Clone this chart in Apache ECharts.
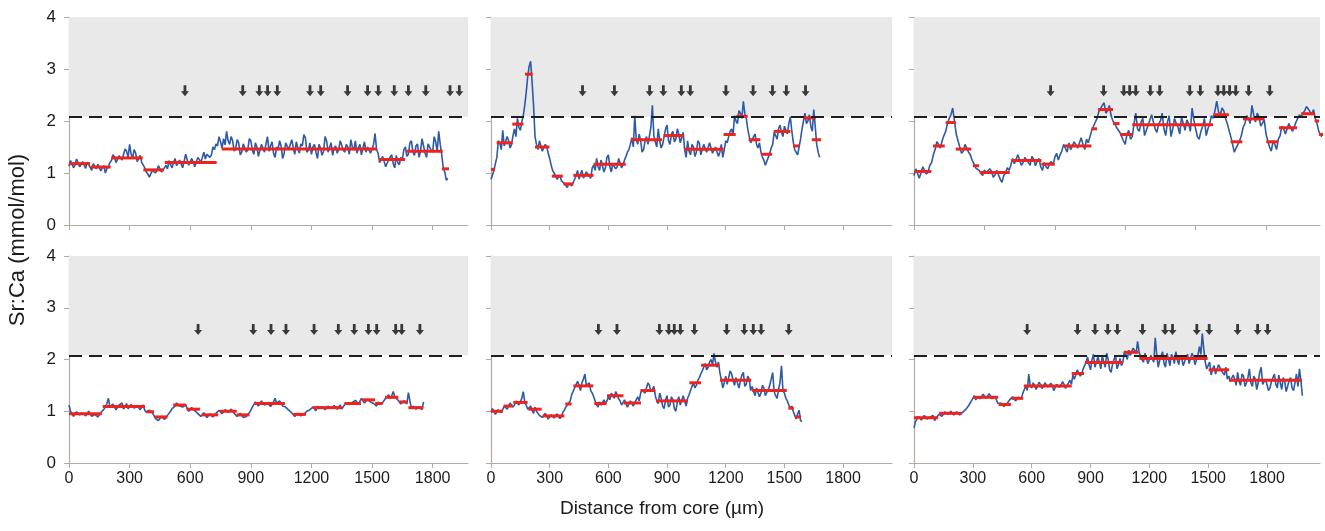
<!DOCTYPE html>
<html>
<head>
<meta charset="utf-8">
<title>Sr:Ca profiles</title>
<script src="https://cdn.jsdelivr.net/npm/echarts@6/dist/echarts.min.js"></script>
<style>
  html, body { margin: 0; padding: 0; background: #fff; }
  #chart { width: 1325px; height: 531px; }
</style>
</head>
<body>
<div id="chart"></div>
<script>
// distance step between successive Sr:Ca readings (µm)
const STEP = 7.5
const X_TICKS = [0, 300, 600, 900, 1200, 1500, 1800]
const Y_TICKS = [0, 1, 2, 3, 4]
const THRESHOLD = 2.08
const ARROW_LEVEL = 2.58

const TITLES = ['a-Freshwater resident', 'b-Freshwater straggler', 'c-Freshwater straggler',
  'd-Freshwater resident', 'e-Freshwater resident', 'f-Freshwater straggler']
const RIVERS = ['Paraná River', 'Paraná River', 'Paraná River', 'Uruguay River', 'Uruguay River', 'Uruguay River']
const AGES = [15, 12, 15, 13, 14, 13]
const FISH_IDS = [31, 8, 7, 42, 55, 41]

// Sr:Ca (mmol/mol), one value every STEP µm from the core
const SR_A = [1.13, 1.24, 1.22, 1.10, 1.16, 1.27, 1.24, 1.12, 1.12, 1.22, 1.20, 1.09, 1.21, 1.16,
  1.14, 1.05, 1.18, 1.12, 1.08, 1.17, 1.15, 1.04, 1.10, 1.14, 1.00, 1.08, 1.12, 1.20,
  1.24, 1.35, 1.31, 1.20, 1.22, 1.33, 1.35, 1.25, 1.28, 1.46, 1.42, 1.30, 1.55, 1.36, 1.30, 1.45,
  1.38, 1.22, 1.25, 1.34, 1.20, 1.15,
  1.10, 1.02, 0.98, 0.92, 0.94, 1.05, 1.08, 1.00, 1.05, 1.14, 1.12, 1.02, 1.06, 1.10,
  1.15, 1.08, 1.24, 1.16, 1.10, 1.20, 1.28, 1.14, 1.16, 1.25, 1.22, 1.10, 1.12, 1.36, 1.33, 1.15,
  1.18, 1.28, 1.21, 1.12, 1.14, 1.30, 1.26, 1.20, 1.30, 1.40, 1.27, 1.36, 1.38, 1.30, 1.35, 1.50,
  1.45, 1.56,
  1.52, 1.70, 1.60, 1.48, 1.66, 1.54, 1.80, 1.62, 1.55, 1.70, 1.62, 1.42, 1.48, 1.64, 1.58, 1.35,
  1.40, 1.56, 1.55, 1.40, 1.45, 1.66, 1.62, 1.44, 1.36, 1.58, 1.50, 1.32, 1.33, 1.55, 1.48, 1.40,
  1.56, 1.70, 1.42, 1.52, 1.60, 1.38, 1.30, 1.50, 1.46, 1.62, 1.52, 1.28, 1.38, 1.58, 1.55, 1.45,
  1.42, 1.64, 1.49, 1.36, 1.60, 1.48, 1.38, 1.56, 1.52, 1.74, 1.68, 1.40, 1.44, 1.58, 1.36, 1.50,
  1.55, 1.40, 1.28, 1.55, 1.48, 1.34, 1.42, 1.70, 1.62, 1.40, 1.50, 1.58, 1.34, 1.48, 1.52, 1.38,
  1.45, 1.62, 1.60, 1.44, 1.40, 1.55, 1.50, 1.36, 1.64, 1.50, 1.44, 1.62, 1.38, 1.48, 1.55, 1.35,
  1.48, 1.60, 1.40, 1.50, 1.52, 1.38, 1.46, 1.55, 1.76, 1.45,
  1.38, 1.20, 1.22, 1.32, 1.30, 1.12, 1.14, 1.26, 1.28, 1.35, 1.18, 1.10, 1.34, 1.20, 1.16, 1.30,
  1.25, 1.45,
  1.50, 1.32, 1.36, 1.58, 1.62, 1.40, 1.34, 1.52, 1.56, 1.30, 1.42, 1.66, 1.68, 1.38, 1.30, 1.56,
  1.50, 1.44, 1.40, 1.70, 1.60, 1.42, 1.80, 1.55,
  1.35, 1.10, 1.02, 0.86, 0.90]
const SR_B = [0.88, 0.96, 1.05, 1.18, 1.30, 1.62, 1.58, 1.45, 1.82, 1.52, 1.50, 1.70, 1.62, 1.48,
  1.55, 1.72, 1.85, 1.70, 2.05, 1.88, 1.82, 1.98, 2.10, 2.30, 2.55, 2.85, 3.05, 3.15, 2.75, 2.30,
  1.70, 1.55, 1.45, 1.62, 1.65, 1.42, 1.40, 1.55, 1.50, 1.38, 1.28, 1.15, 1.05, 1.00, 0.95, 0.88,
  0.90, 0.95, 0.85, 0.82, 0.80, 0.76, 0.72, 0.80, 0.82, 0.75, 0.78, 0.88, 0.95, 1.05, 0.88, 0.98,
  1.05, 0.90, 0.92, 1.02, 1.00, 0.94, 0.90, 1.10, 1.15, 1.05, 1.28, 1.12, 1.05, 1.25, 1.22, 1.02,
  1.10, 1.30, 1.35, 1.12, 1.02, 1.18, 1.20, 1.08, 1.12, 1.28, 1.30, 1.10, 1.15, 1.25, 1.32, 1.40,
  1.45, 1.55, 1.68, 1.50, 2.10, 1.65, 1.55, 1.75, 1.62, 1.40, 1.45, 1.62, 1.70, 1.55, 1.52, 1.88,
  2.30, 1.72, 1.60, 1.50, 1.85, 1.62, 1.48, 1.55, 1.70, 1.85, 1.92, 1.62, 1.55, 1.75, 1.80, 1.60,
  1.65, 1.85, 1.75, 1.58, 1.60, 1.78, 1.45, 1.30, 1.62, 1.42, 1.35, 1.55, 1.50, 1.32, 1.40, 1.62,
  1.58, 1.35, 1.38, 1.55, 1.52, 1.40, 1.42, 1.58, 1.60, 1.38, 1.35, 1.50, 1.48, 1.32, 1.40, 1.55,
  1.30, 1.45, 1.62, 1.58, 1.70, 1.80, 1.85, 1.72, 2.10, 2.00, 1.95, 2.20, 2.15, 2.05, 2.38, 2.15,
  2.05, 1.85, 1.70, 1.58, 1.60, 1.70, 1.75, 1.55, 1.48, 1.58, 1.40, 1.30, 1.25, 1.15, 1.18, 1.30,
  1.38, 1.48, 1.55, 1.78, 1.72, 1.65, 1.85, 1.92, 1.78, 1.70, 1.90, 1.82, 1.75, 1.95, 2.08, 1.82,
  1.60, 1.45, 1.42, 1.35, 1.50, 1.65, 1.85, 2.00, 2.15, 1.95, 2.00, 2.12, 1.90, 1.80, 2.22, 1.90,
  1.55, 1.40, 1.30]
const SR_C = [0.95, 1.08, 1.05, 0.90, 0.92, 1.12, 1.10, 0.98, 1.02, 1.15, 1.20, 1.35, 1.45, 1.60,
  1.55, 1.48, 1.62, 1.72, 1.80, 1.95, 2.05, 2.12, 2.25, 2.00, 1.75, 1.62, 1.50, 1.38, 1.42, 1.55,
  1.48, 1.40, 1.35, 1.25, 1.18, 1.10, 1.12, 1.05, 1.00, 0.95, 1.06, 1.00, 0.98, 1.08, 1.04, 0.92,
  0.96, 1.05, 1.02, 0.88, 0.82, 0.95, 1.00, 1.10, 1.05, 1.15, 1.28, 1.18, 1.18, 1.35, 1.32, 1.15,
  1.20, 1.30, 1.28, 1.20, 1.15, 1.32, 1.26, 1.14, 1.22, 1.28, 1.12, 1.05, 1.20, 1.12, 1.08, 1.18,
  1.22, 1.15, 1.30, 1.38, 1.25, 1.35, 1.42, 1.55, 1.48, 1.40, 1.58, 1.45, 1.45, 1.60, 1.62, 1.48,
  1.50, 1.68, 1.55, 1.45, 1.65, 1.58, 1.70, 1.82, 1.90, 1.98, 2.05, 2.18, 2.15, 2.30, 2.35, 2.15,
  2.20, 2.30, 2.10, 2.00, 1.95, 1.88, 1.85, 1.78, 1.70, 1.62, 1.55, 1.75, 1.82, 1.65, 1.70, 1.95,
  2.15, 1.85, 1.80, 1.98, 2.05, 1.72, 1.75, 1.92, 1.95, 2.12, 2.10, 1.85, 1.78, 1.95, 2.00, 2.15,
  1.85, 1.72, 1.98, 2.10, 1.70, 1.85, 2.05, 1.95, 1.88, 1.75, 2.08, 1.95, 1.82, 2.02, 1.95, 1.80,
  2.25, 2.02, 1.85, 1.70, 1.65, 1.80, 1.90, 2.05, 1.72, 1.85, 1.95, 2.10, 2.05, 2.20, 2.38, 2.18,
  2.10, 2.25, 2.20, 2.05, 1.95, 1.82, 1.70, 1.55, 1.40, 1.48, 1.55, 1.62, 1.72, 1.88, 1.95, 2.10,
  2.05, 1.95, 2.30, 2.12, 1.98, 2.15, 2.08, 1.90, 1.92, 2.02, 1.75, 1.62, 1.50, 1.42, 1.62, 1.55,
  1.45, 1.65, 1.72, 1.90, 1.85, 1.75, 1.78, 1.95, 1.92, 1.80, 1.88, 1.98, 2.00, 2.12, 2.08, 2.15,
  2.20, 2.28, 2.30, 2.18, 2.12, 2.22, 2.05, 1.95, 1.80, 1.72, 1.70]
const SR_D = [1.12, 1.00, 0.95, 0.90, 0.92, 0.99, 0.98, 0.93, 0.90, 0.97, 0.96, 0.91, 0.93, 1.00,
  0.98, 0.90, 0.88, 0.94, 0.95, 0.89, 0.92, 0.97, 1.00, 1.04, 1.08, 1.15, 1.25, 1.08, 1.05, 1.14,
  1.12, 1.03, 1.06, 1.12, 1.10, 1.16, 1.04, 1.09, 1.15, 1.05, 1.08, 1.13, 1.12, 1.06, 1.05, 1.11,
  1.10, 1.03, 1.08, 1.12, 1.02, 0.98, 0.96, 1.02, 1.05, 0.97, 0.92, 0.86, 0.88, 0.82, 0.85, 0.90,
  0.90, 0.84, 0.86, 0.92, 0.95, 1.00, 1.05, 1.08, 1.10, 1.16, 1.15, 1.10, 1.12, 1.08, 1.10, 1.13,
  1.05, 1.00, 1.02, 1.07, 1.06, 1.01, 1.00, 0.96, 0.98, 0.90, 0.92, 0.97, 0.95, 0.88, 0.90, 0.95,
  0.94, 0.89, 0.92, 0.96, 0.96, 1.02, 1.00, 0.95, 0.97, 1.03, 1.02, 0.98, 0.99, 1.04, 1.01, 0.96,
  0.95, 0.90, 0.92, 0.96, 0.94, 0.88, 0.85, 0.90, 0.92, 0.97, 1.02, 1.08, 1.10, 1.18, 1.15, 1.10,
  1.12, 1.20, 1.18, 1.12, 1.10, 1.16, 1.16, 1.09, 1.12, 1.18, 1.25, 1.16, 1.14, 1.20, 1.18, 1.10,
  1.12, 1.08, 1.05, 1.02, 1.00, 0.97, 0.95, 0.90, 0.92, 0.96, 0.96, 0.91, 0.90, 0.94, 0.95, 1.00,
  0.98, 1.03, 1.02, 1.08, 1.05, 1.01, 1.10, 1.05, 1.04, 1.09, 1.08, 1.03, 1.02, 1.10, 1.12, 1.06,
  1.05, 1.11, 1.10, 1.04, 1.06, 1.12, 1.04, 1.09, 1.12, 1.16, 1.18, 1.13, 1.10, 1.17, 1.15, 1.21,
  1.20, 1.14, 1.12, 1.25, 1.22, 1.16, 1.18, 1.23, 1.26, 1.18, 1.20, 1.15, 1.14, 1.10, 1.18, 1.14,
  1.12, 1.17, 1.20, 1.25, 1.28, 1.32, 1.24, 1.30, 1.38, 1.28, 1.26, 1.22, 1.20, 1.14, 1.15, 1.20,
  1.22, 1.14, 1.36, 1.20, 1.05, 1.10, 1.10, 1.04, 1.02, 1.09, 1.08, 1.03, 1.18]
const SR_E = [0.98, 1.05, 1.02, 0.94, 0.95, 1.03, 1.05, 0.97, 1.00, 1.10, 1.12, 1.04, 1.06, 1.16,
  1.14, 1.08, 1.12, 1.20, 1.22, 1.12, 1.15, 1.25, 1.38, 1.18, 1.12, 1.04, 1.06, 1.10, 1.02, 0.96,
  1.08, 1.00, 0.98, 0.92, 0.95, 0.88, 0.90, 0.96, 0.94, 0.85, 0.86, 0.93, 0.92, 0.87, 0.88, 0.95,
  0.93, 0.86, 0.90, 0.98, 1.02, 1.08, 1.12, 1.15, 1.20, 1.32, 1.35, 1.45, 1.42, 1.58, 1.50, 1.40,
  1.55, 1.62, 1.72, 1.50, 1.48, 1.55, 1.40, 1.35, 1.28, 1.20, 1.12, 1.08, 1.18, 1.12, 1.10, 1.22,
  1.15, 1.20, 1.28, 1.22, 1.35, 1.30, 1.25, 1.38, 1.32, 1.24, 1.20, 1.12, 1.15, 1.22, 1.22, 1.08,
  1.10, 1.20, 1.18, 1.10, 1.12, 1.22, 1.28, 1.20, 1.35, 1.42, 1.45, 1.35, 1.38, 1.55, 1.50, 1.38,
  1.42, 1.48, 1.30, 1.20, 1.15, 1.35, 1.25, 1.10, 1.05, 1.22, 1.30, 1.08, 1.12, 1.28, 1.22, 1.05,
  1.00, 1.18, 1.28, 1.12, 1.15, 1.30, 1.20, 1.10, 1.25, 1.32, 1.40, 1.48, 1.55, 1.45, 1.50, 1.60,
  1.65, 1.72, 1.78, 1.85, 1.92, 1.80, 1.85, 1.95, 2.00, 1.90, 2.12, 1.95, 1.85, 1.95, 1.75, 1.60,
  1.45, 1.55, 1.68, 1.52, 1.55, 1.78, 1.72, 1.60, 1.50, 1.65, 1.65, 1.45, 1.58, 1.70, 1.75, 1.48,
  1.52, 1.68, 1.62, 1.40, 1.48, 1.38, 1.30, 1.45, 1.42, 1.28, 1.35, 1.50, 1.45, 1.30, 1.32, 1.42,
  1.50, 1.62, 1.75, 1.38, 1.30, 1.25, 1.42, 1.55, 1.88, 1.40, 1.35, 1.25, 1.20, 1.12, 1.05, 1.10,
  1.00, 0.92, 0.85, 0.95, 1.02, 0.82, 0.80]
const SR_F = [0.68, 0.80, 0.85, 0.90, 0.88, 0.83, 0.86, 0.92, 0.90, 0.85, 0.84, 0.89, 0.88, 0.92,
  0.82, 0.87, 0.90, 0.94, 0.95, 0.90, 0.93, 0.99, 1.02, 0.94, 0.96, 1.00, 0.98, 0.93, 0.94, 0.99,
  0.97, 0.93, 0.92, 0.98, 1.00, 1.03, 1.05, 1.10, 1.15, 1.20, 1.25, 1.30, 1.22, 1.27, 1.30, 1.24,
  1.26, 1.33, 1.32, 1.25, 1.28, 1.34, 1.30, 1.24, 1.25, 1.28, 1.22, 1.15, 1.12, 1.16, 1.15, 1.09,
  1.10, 1.14, 1.16, 1.22, 1.20, 1.28, 1.25, 1.20, 1.22, 1.27, 1.28, 1.24, 1.35, 1.42, 1.48, 1.40,
  1.72, 1.50, 1.45, 1.55, 1.50, 1.42, 1.45, 1.56, 1.52, 1.44, 1.48, 1.55, 1.58, 1.47, 1.46, 1.54,
  1.50, 1.40, 1.42, 1.52, 1.55, 1.46, 1.48, 1.57, 1.52, 1.44, 1.45, 1.55, 1.60, 1.52, 1.70, 1.62,
  1.65, 1.80, 1.78, 1.68, 1.72, 1.82, 1.85, 1.95, 2.05, 1.90, 1.80, 2.00, 2.10, 1.85, 1.88, 2.05,
  1.95, 1.82, 2.08, 1.95, 1.85, 2.12, 2.00, 1.80, 1.75, 1.92, 1.95, 2.08, 1.82, 1.90, 2.02, 1.88,
  1.95, 2.15, 2.10, 2.00, 2.18, 2.08, 2.05, 2.22, 2.25, 2.12, 2.35, 2.15, 2.05, 2.00, 1.95, 2.12,
  2.10, 1.92, 1.90, 2.08, 2.05, 1.95, 2.42, 2.10, 1.85, 1.98, 2.00, 2.15, 1.92, 1.85, 2.12, 2.00,
  1.88, 2.10, 2.05, 1.92, 2.15, 2.00, 1.90, 2.08, 2.02, 1.88, 1.85, 2.05, 2.10, 1.92, 1.95, 2.12,
  2.05, 1.90, 1.92, 2.08, 2.25, 2.10, 2.50, 2.20, 1.95, 1.82, 1.85, 1.95, 1.70, 1.82, 1.88, 1.72,
  1.75, 1.90, 1.92, 1.78, 1.80, 1.70, 1.85, 1.62, 1.68, 1.58, 1.55, 1.70, 1.62, 1.50, 1.75, 1.58,
  1.50, 1.72, 1.68, 1.48, 1.55, 1.65, 1.82, 1.55, 1.48, 1.68, 1.62, 1.42, 1.55, 1.75, 1.85, 1.52,
  1.50, 1.62, 1.65, 1.40, 1.45, 1.58, 1.60, 1.72, 1.52, 1.45, 1.70, 1.55, 1.42, 1.65, 1.58, 1.38,
  1.48, 1.60, 1.65, 1.45, 1.40, 1.55, 1.72, 1.48, 1.82, 1.60, 1.30]

// zone means: [from µm, to µm, mean Sr:Ca]
const MEANS_A = [[0, 104, 1.18], [107, 206, 1.115], [210, 365, 1.29], [368, 470, 1.06], [474, 731, 1.20],
  [756, 1523, 1.46], [1534, 1663, 1.26], [1671, 1850, 1.42], [1846, 1881, 1.08]]
const MEANS_B = [[0, 20, 1.07], [29, 111, 1.58], [109, 166, 1.94], [174, 213, 2.90], [225, 299, 1.50],
  [311, 367, 0.94], [370, 421, 0.79], [421, 524, 0.955], [524, 689, 1.17], [717, 874, 1.64],
  [882, 985, 1.72], [988, 1189, 1.455], [1189, 1251, 1.74], [1254, 1312, 2.09], [1317, 1377, 1.64],
  [1381, 1437, 1.36], [1445, 1531, 1.80], [1544, 1575, 1.52], [1596, 1660, 2.06], [1640, 1688, 1.64]]
const MEANS_C = [[3, 74, 1.03], [81, 131, 1.52], [135, 178, 1.97], [178, 244, 1.46], [251, 277, 1.14],
  [280, 408, 1.01], [415, 543, 1.24], [543, 600, 1.17], [642, 756, 1.52], [756, 780, 1.85],
  [784, 848, 2.22], [848, 876, 1.95], [879, 930, 1.74], [930, 1274, 1.93], [1277, 1342, 2.12],
  [1349, 1399, 1.60], [1402, 1494, 2.04], [1501, 1551, 1.60], [1555, 1632, 1.87], [1650, 1707, 2.14],
  [1707, 1726, 2.00], [1726, 1743, 1.74]]
const MEANS_D = [[0, 162, 0.95], [167, 376, 1.09], [384, 421, 0.99], [426, 488, 0.89], [516, 579, 1.12],
  [582, 648, 1.04], [657, 739, 0.93], [747, 830, 1.00], [830, 893, 0.93], [916, 1069, 1.15],
  [1110, 1173, 0.94], [1206, 1350, 1.07], [1363, 1445, 1.15], [1449, 1515, 1.22], [1515, 1553, 1.15],
  [1564, 1630, 1.27], [1635, 1675, 1.18], [1680, 1754, 1.07]]
const MEANS_E = [[0, 60, 1.00], [65, 111, 1.10], [114, 187, 1.17], [191, 259, 1.04], [264, 375, 0.91],
  [380, 412, 1.14], [421, 523, 1.49], [528, 591, 1.15], [593, 677, 1.30], [678, 767, 1.16],
  [764, 840, 1.40], [844, 1006, 1.20], [1014, 1074, 1.55], [1074, 1168, 1.89], [1171, 1330, 1.60],
  [1335, 1512, 1.40], [1520, 1548, 1.06], [1556, 1585, 0.89]]
const MEANS_F = [[0, 123, 0.875], [128, 242, 0.96], [301, 429, 1.27], [432, 494, 1.13], [497, 557, 1.25],
  [560, 804, 1.49], [804, 867, 1.73], [872, 1062, 1.94], [1071, 1144, 2.14], [1149, 1497, 2.02],
  [1502, 1606, 1.80], [1606, 1978, 1.60]]

// annual marks (µm)
const ARROWS_A = [574, 860, 942, 983, 1031, 1193, 1246, 1379, 1478, 1531, 1610, 1680, 1766, 1886, 1932]
const ARROWS_B = [468, 631, 811, 881, 973, 1019, 1201, 1340, 1439, 1510, 1608]
const ARROWS_C = [582, 808, 894, 919, 945, 1007, 1047, 1175, 1220, 1295, 1320, 1345, 1371, 1426, 1516]
const ARROWS_D = [639, 912, 1000, 1074, 1213, 1333, 1412, 1482, 1523, 1617, 1647, 1737]
const ARROWS_E = [549, 644, 861, 909, 937, 968, 1040, 1205, 1295, 1341, 1381, 1522]
const ARROWS_F = [577, 834, 923, 988, 1037, 1165, 1280, 1318, 1442, 1505, 1650, 1752, 1803]

const SERIES_VALUES = [SR_A, SR_B, SR_C, SR_D, SR_E, SR_F]
const SERIES_MEANS = [MEANS_A, MEANS_B, MEANS_C, MEANS_D, MEANS_E, MEANS_F]
const SERIES_ARROWS = [ARROWS_A, ARROWS_B, ARROWS_C, ARROWS_D, ARROWS_E, ARROWS_F]

// panel placement (px) and x range
const LAYOUT = [
  { left: 69, top: 17, width: 399, height: 208, xMax: 1975 },
  { left: 491, top: 17, width: 401, height: 208, xMax: 2050 },
  { left: 914, top: 17, width: 406, height: 208, xMax: 1730 },
  { left: 69, top: 256, width: 399, height: 207, xMax: 1975 },
  { left: 491, top: 256, width: 401, height: 207, xMax: 2050 },
  { left: 914, top: 256, width: 406, height: 207, xMax: 2070 }
]

const FONT = '"Liberation Sans", Arial, sans-serif'
const AXIS_COLOR = '#b2aaa3'
const TEXT_COLOR = '#1b1b1b'
const ARROW_PATH = 'path://M2.6,0 L5.4,0 L5.4,6 L8,6 L4,11 L0,6 L2.6,6 Z'

const chart = echarts.init(document.getElementById('chart'), null, { renderer: 'canvas' })

const grids = []
const xAxes = []
const yAxes = []
const series = []
const graphics = []

LAYOUT.forEach((g, i) => {
  const bottomRow = i >= 3
  const leftCol = i % 3 === 0
  const ticks = X_TICKS.filter(v => v <= g.xMax)

  grids.push({ left: g.left, top: g.top, width: g.width, height: g.height, containLabel: false })

  xAxes.push({
    gridIndex: i,
    type: 'value',
    min: 0,
    max: g.xMax,
    interval: 300,
    axisLine: { lineStyle: { color: AXIS_COLOR, width: 1.2 } },
    axisTick: { length: 5, lineStyle: { color: AXIS_COLOR }, customValues: ticks },
    axisLabel: {
      show: bottomRow,
      customValues: ticks,
      formatter: v => String(v),
      fontSize: 16,
      fontFamily: FONT,
      color: TEXT_COLOR,
      margin: 8
    },
    splitLine: { show: false }
  })

  yAxes.push({
    gridIndex: i,
    type: 'value',
    min: 0,
    max: 4,
    interval: 1,
    axisLine: { show: true, lineStyle: { color: AXIS_COLOR, width: 1.2 } },
    axisTick: { show: true, length: 5, lineStyle: { color: AXIS_COLOR }, customValues: Y_TICKS },
    axisLabel: {
      show: leftCol,
      customValues: Y_TICKS,
      fontSize: 17,
      fontFamily: FONT,
      color: TEXT_COLOR,
      margin: 13
    },
    splitLine: { show: false }
  })

  // grey band above the threshold and the dashed threshold line
  series.push({
    type: 'line',
    xAxisIndex: i,
    yAxisIndex: i,
    data: [],
    z: 1,
    silent: true,
    markArea: {
      silent: true,
      itemStyle: { color: '#e9e9e9' },
      data: [[{ yAxis: THRESHOLD }, { yAxis: 4 }]]
    },
    markLine: {
      silent: true,
      symbol: ['none', 'none'],
      label: { show: false },
      lineStyle: { color: '#1e1e1e', type: [13, 7], width: 2 },
      data: [{ yAxis: THRESHOLD }]
    }
  })

  series.push({
    type: 'line',
    xAxisIndex: i,
    yAxisIndex: i,
    z: 3,
    showSymbol: false,
    symbol: 'none',
    lineStyle: { color: '#2c5aa6', width: 1.6 },
    data: SERIES_VALUES[i].map((v, k) => [k * STEP, v])
  })

  series.push({
    type: 'custom',
    xAxisIndex: i,
    yAxisIndex: i,
    z: 4,
    encode: { x: [0, 1], y: 2 },
    data: SERIES_MEANS[i],
    renderItem: (params, api) => {
      const p0 = api.coord([api.value(0), api.value(2)])
      const p1 = api.coord([api.value(1), api.value(2)])
      return {
        type: 'line',
        shape: { x1: p0[0], y1: p0[1], x2: p1[0], y2: p1[1] },
        style: { stroke: '#f0221c', lineWidth: 3 }
      }
    }
  })

  series.push({
    type: 'scatter',
    xAxisIndex: i,
    yAxisIndex: i,
    z: 5,
    silent: true,
    symbol: ARROW_PATH,
    symbolSize: [8, 11],
    itemStyle: { color: '#0d0d0d' },
    data: SERIES_ARROWS[i].map(x => [x, ARROW_LEVEL])
  })

  const right = g.left + g.width - 3
  graphics.push(
    { type: 'text', x: g.left + 3, y: g.top + 10, style: { text: TITLES[i], font: '16px ' + FONT, fill: TEXT_COLOR, align: 'left', verticalAlign: 'middle' } },
    { type: 'text', x: right, y: g.top + 10, style: { text: RIVERS[i], font: '16px ' + FONT, fill: TEXT_COLOR, align: 'right', verticalAlign: 'middle' } },
    { type: 'text', x: right, y: g.top + 28.5, style: { text: 'Age: ' + AGES[i], font: '16px ' + FONT, fill: TEXT_COLOR, align: 'right', verticalAlign: 'middle' } },
    { type: 'text', x: right, y: g.top + 46, style: { text: 'ID: ' + FISH_IDS[i], font: '15px ' + FONT, fill: TEXT_COLOR, align: 'right', verticalAlign: 'middle' } }
  )
})

graphics.push(
  { type: 'text', x: 18, y: 240, rotation: Math.PI / 2, style: { text: 'Sr:Ca (mmol/mol)', font: '22px ' + FONT, fill: TEXT_COLOR, align: 'center', verticalAlign: 'middle' } },
  { type: 'text', x: 662, y: 509, style: { text: 'Distance from core (µm)', font: '19px ' + FONT, fill: TEXT_COLOR, align: 'center', verticalAlign: 'middle' } }
)

chart.setOption({
  animation: false,
  backgroundColor: '#fff',
  textStyle: { fontFamily: FONT },
  grid: grids,
  xAxis: xAxes,
  yAxis: yAxes,
  series: series,
  graphic: graphics
})
</script>
</body>
</html>
